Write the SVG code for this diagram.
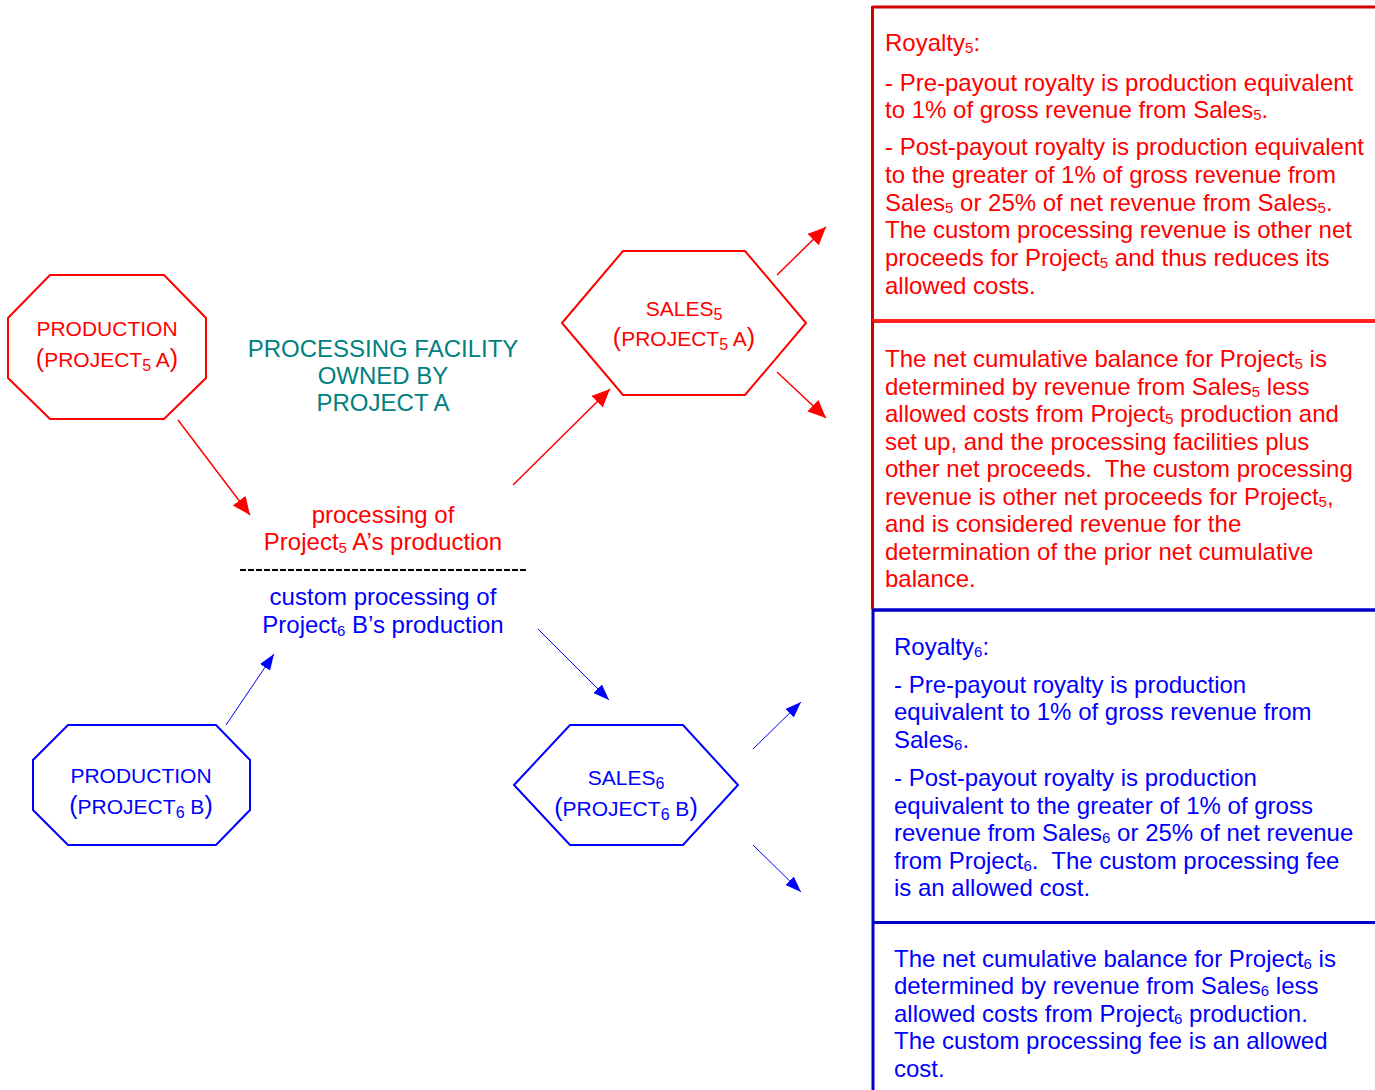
<svg xmlns="http://www.w3.org/2000/svg" width="1375" height="1090" viewBox="0 0 1375 1090">
<defs>
<style>
text{font-family:"Liberation Sans",Arial,sans-serif}
.r{fill:#ff0000}
.b{fill:#0000ff}
.t{fill:#008080}
.node{font-size:21px;text-anchor:middle}
.mid{font-size:24px;text-anchor:middle}
.box{font-size:24px}
.par{font-size:25px}
.shR{fill:#fff;stroke:#ff0000;stroke-width:2}
.shB{fill:#fff;stroke:#0000ff;stroke-width:2}
.cR{stroke:#ff0000;stroke-width:1.5;fill:none}
.cB{stroke:#0000ff;stroke-width:1;fill:none}
</style>
<marker id="ar" viewBox="0 0 18 16" refX="18" refY="8" markerWidth="18" markerHeight="16" orient="auto" markerUnits="userSpaceOnUse"><path d="M0,0 L18,8 L0,16 z" fill="#ff0000"/></marker>
<marker id="ab" viewBox="0 0 16 12" refX="16" refY="6" markerWidth="16" markerHeight="12" orient="auto" markerUnits="userSpaceOnUse"><path d="M0,0 L16,6 L0,12 z" fill="#0000ff"/></marker>
</defs>
<rect width="1375" height="1090" fill="#fff"/>

<g id="connectors">
<line class="cR" x1="178" y1="420" x2="250" y2="515" marker-end="url(#ar)"/>
<line class="cR" x1="513" y1="485" x2="610" y2="389" marker-end="url(#ar)"/>
<line class="cR" x1="777" y1="275" x2="826" y2="227" marker-end="url(#ar)"/>
<line class="cR" x1="777" y1="372" x2="826" y2="418" marker-end="url(#ar)"/>
<line class="cB" x1="226" y1="725" x2="274" y2="654" marker-end="url(#ab)"/>
<line class="cB" x1="538" y1="629" x2="609" y2="700" marker-end="url(#ab)"/>
<line class="cB" x1="753" y1="749" x2="801" y2="702" marker-end="url(#ab)"/>
<line class="cB" x1="753" y1="845" x2="801" y2="892" marker-end="url(#ab)"/>
</g>

<g id="productionA">
<polygon class="shR" points="50,275 164,275 206,318 206,378 164,419 50,419 8,378 8,318"/>
<text class="node r" x="107" y="336">PRODUCTION</text>
<text class="node r" x="107" y="367"><tspan class="par">(</tspan>PROJECT<tspan font-size="16" dy="4">5</tspan><tspan dy="-4"> A</tspan><tspan class="par">)</tspan></text>
</g>

<g id="facility">
<text class="mid t" x="383" y="357">PROCESSING FACILITY</text>
<text class="mid t" x="383" y="384">OWNED BY</text>
<text class="mid t" x="383" y="411">PROJECT A</text>
</g>

<g id="processing">
<text class="mid r" x="383" y="523">processing of</text>
<text class="mid r" x="383" y="550">Project<tspan font-size="15" dy="3">5</tspan><tspan dy="-3"> A’s production</tspan></text>
<line x1="240" y1="570" x2="527" y2="570" stroke="#000" stroke-width="2" stroke-dasharray="6,2"/>
<text class="mid b" x="383" y="605">custom processing of</text>
<text class="mid b" x="383" y="633">Project<tspan font-size="15" dy="3">6</tspan><tspan dy="-3"> B’s production</tspan></text>
</g>

<g id="sales5">
<polygon class="shR" points="562,323 623,251 745,251 806,323 745,395 623,395"/>
<text class="node r" x="684" y="316">SALES<tspan font-size="16" dy="4">5</tspan></text>
<text class="node r" x="684" y="346"><tspan class="par">(</tspan>PROJECT<tspan font-size="16" dy="4">5</tspan><tspan dy="-4"> A</tspan><tspan class="par">)</tspan></text>
</g>

<g id="productionB">
<polygon class="shB" points="68,725 216,725 250,760 250,810 216,845 68,845 33,810 33,760"/>
<text class="node b" x="141" y="783">PRODUCTION</text>
<text class="node b" x="141" y="814"><tspan class="par">(</tspan>PROJECT<tspan font-size="16" dy="4">6</tspan><tspan dy="-4"> B</tspan><tspan class="par">)</tspan></text>
</g>

<g id="sales6">
<polygon class="shB" points="514,785 570,725 683,725 738,785 683,845 570,845"/>
<text class="node b" x="626" y="785">SALES<tspan font-size="16" dy="4">6</tspan></text>
<text class="node b" x="626" y="816"><tspan class="par">(</tspan>PROJECT<tspan font-size="16" dy="4">6</tspan><tspan dy="-4"> B</tspan><tspan class="par">)</tspan></text>
</g>

<g id="royalty5">
<line x1="872.5" y1="7" x2="1375" y2="7" stroke="#d40000" stroke-width="3"/>
<line x1="872.5" y1="6" x2="872.5" y2="321" stroke="#d40000" stroke-width="3"/>
<text class="box r" x="885" y="51">Royalty<tspan font-size="15" dy="2">5</tspan><tspan dy="-2">:</tspan></text>
<text class="box r" x="885" y="91">- Pre-payout royalty is production equivalent</text>
<text class="box r" x="885" y="118">to 1% of gross revenue from Sales<tspan font-size="15" dy="2">5</tspan><tspan dy="-2">.</tspan></text>
<text class="box r" x="885" y="155">- Post-payout royalty is production equivalent</text>
<text class="box r" x="885" y="183">to the greater of 1% of gross revenue from</text>
<text class="box r" x="885" y="211">Sales<tspan font-size="15" dy="2">5</tspan><tspan dy="-2"> or 25% of net revenue from Sales</tspan><tspan font-size="15" dy="2">5</tspan><tspan dy="-2">.</tspan></text>
<text class="box r" x="885" y="238">The custom processing revenue is other net</text>
<text class="box r" x="885" y="266">proceeds for Project<tspan font-size="15" dy="2">5</tspan><tspan dy="-2"> and thus reduces its</tspan></text>
<text class="box r" x="885" y="294">allowed costs.</text>
</g>

<g id="balance5">
<line x1="872.5" y1="321" x2="1375" y2="321" stroke="#ff2020" stroke-width="4"/>
<line x1="872.5" y1="321" x2="872.5" y2="609" stroke="#d40000" stroke-width="3"/>
<text class="box r" x="885" y="367">The net cumulative balance for Project<tspan font-size="15" dy="2">5</tspan><tspan dy="-2"> is</tspan></text>
<text class="box r" x="885" y="395">determined by revenue from Sales<tspan font-size="15" dy="2">5</tspan><tspan dy="-2"> less</tspan></text>
<text class="box r" x="885" y="422">allowed costs from Project<tspan font-size="15" dy="2">5</tspan><tspan dy="-2"> production and</tspan></text>
<text class="box r" x="885" y="450">set up, and the processing facilities plus</text>
<text class="box r" x="885" y="477">other net proceeds.&#160; The custom processing</text>
<text class="box r" x="885" y="505">revenue is other net proceeds for Project<tspan font-size="15" dy="2">5</tspan><tspan dy="-2">,</tspan></text>
<text class="box r" x="885" y="532">and is considered revenue for the</text>
<text class="box r" x="885" y="560">determination of the prior net cumulative</text>
<text class="box r" x="885" y="587">balance.</text>
</g>

<g id="royalty6">
<line x1="873" y1="610" x2="1375" y2="610" stroke="#0000c8" stroke-width="3.5"/>
<line x1="873" y1="609" x2="873" y2="922" stroke="#0000c8" stroke-width="3"/>
<text class="box b" x="894" y="655">Royalty<tspan font-size="15" dy="2">6</tspan><tspan dy="-2">:</tspan></text>
<text class="box b" x="894" y="693">- Pre-payout royalty is production</text>
<text class="box b" x="894" y="720">equivalent to 1% of gross revenue from</text>
<text class="box b" x="894" y="748">Sales<tspan font-size="15" dy="2">6</tspan><tspan dy="-2">.</tspan></text>
<text class="box b" x="894" y="786">- Post-payout royalty is production</text>
<text class="box b" x="894" y="814">equivalent to the greater of 1% of gross</text>
<text class="box b" x="894" y="841">revenue from Sales<tspan font-size="15" dy="2">6</tspan><tspan dy="-2"> or 25% of net revenue</tspan></text>
<text class="box b" x="894" y="869">from Project<tspan font-size="15" dy="2">6</tspan><tspan dy="-2">.&#160; The custom processing fee</tspan></text>
<text class="box b" x="894" y="896">is an allowed cost.</text>
</g>

<g id="balance6">
<line x1="873" y1="922.5" x2="1375" y2="922.5" stroke="#0000c8" stroke-width="3"/>
<line x1="873" y1="922" x2="873" y2="1090" stroke="#0000c8" stroke-width="3"/>
<text class="box b" x="894" y="967">The net cumulative balance for Project<tspan font-size="15" dy="2">6</tspan><tspan dy="-2"> is</tspan></text>
<text class="box b" x="894" y="994">determined by revenue from Sales<tspan font-size="15" dy="2">6</tspan><tspan dy="-2"> less</tspan></text>
<text class="box b" x="894" y="1022">allowed costs from Project<tspan font-size="15" dy="2">6</tspan><tspan dy="-2"> production.</tspan></text>
<text class="box b" x="894" y="1049">The custom processing fee is an allowed</text>
<text class="box b" x="894" y="1077">cost.</text>
</g>
</svg>
